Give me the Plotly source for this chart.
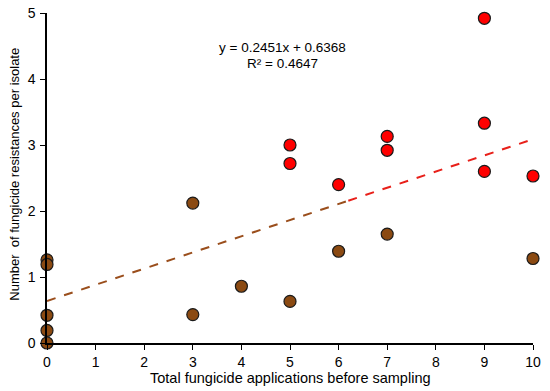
import plotly.graph_objects as go

# Data
red_x = [5, 5, 6, 7, 7, 9, 9, 9, 10]
red_y = [3.00, 2.72, 2.40, 3.13, 2.92, 4.92, 3.33, 2.60, 2.53]
brown_x = [0, 0, 0, 0, 0, 3, 3, 4, 5, 6, 7, 10]
brown_y = [1.26, 1.19, 0.42, 0.19, 0.0, 2.12, 0.43, 0.86, 0.63, 1.39, 1.65, 1.28]

slope = 0.2451
intercept = 0.6368
r2 = 0.4647
trend_split = 6.2
trend_x_brown = [0, trend_split]
trend_x_red = [trend_split, 10]

x_ticks = list(range(0, 11))
y_ticks = list(range(0, 6))

x_title = "Total fungicide applications before sampling"
y_title = "Number  of fungicide resistances per isolate"

FONT = "Liberation Sans, Arial, sans-serif"
BROWN = "#8B4A12"
RED = "#FF0000"

fig = go.Figure()

fig.add_trace(go.Scatter(
    x=trend_x_brown, y=[slope * v + intercept for v in trend_x_brown],
    mode="lines", line=dict(color="#9A4E1C", width=2, dash="dash"),
    hoverinfo="skip", showlegend=False))
fig.add_trace(go.Scatter(
    x=trend_x_red, y=[slope * v + intercept for v in trend_x_red],
    mode="lines", line=dict(color="#E8201A", width=2, dash="dash"),
    hoverinfo="skip", showlegend=False))

fig.add_trace(go.Scatter(
    x=brown_x, y=brown_y, mode="markers", cliponaxis=False,
    marker=dict(size=12, color=BROWN, line=dict(color="#1a1a1a", width=1.2)),
    showlegend=False))
fig.add_trace(go.Scatter(
    x=red_x, y=red_y, mode="markers", cliponaxis=False,
    marker=dict(size=12, color=RED, line=dict(color="#1a1a1a", width=1.2)),
    showlegend=False))

# Trendline equation (two lines, tight spacing like the reference)
fig.add_annotation(
    x=4.84, y=4.47, xref="x", yref="y",
    text=f"y = {slope}x + {intercept}",
    showarrow=False, align="center",
    font=dict(family=FONT, size=13.5, color="#000000"))
fig.add_annotation(
    x=4.84, y=4.24, xref="x", yref="y",
    text=f"R² = {r2}",
    showarrow=False, align="center",
    font=dict(family=FONT, size=13.5, color="#000000"))

# Axis titles as annotations for exact placement
fig.add_annotation(
    x=0.5, y=0, xref="paper", yref="paper", yanchor="middle", xanchor="center",
    yshift=-35, text=x_title, showarrow=False,
    font=dict(family=FONT, size=14.5, color="#000000"))
fig.add_annotation(
    x=0, y=0.51, xref="paper", yref="paper", xanchor="center", yanchor="middle",
    xshift=-32, text=y_title, textangle=-90, showarrow=False,
    font=dict(family=FONT, size=13, color="#000000"))

axis_common = dict(
    showgrid=False, zeroline=False, showline=True, linecolor="#000000",
    linewidth=1.5, ticks="outside", ticklen=5, tickcolor="#000000",
    automargin=False,
    tickfont=dict(family=FONT, size=14, color="#000000"))

fig.update_xaxes(range=[0, 10], tickvals=x_ticks,
                 ticktext=[str(v) for v in x_ticks], **axis_common)
fig.update_yaxes(range=[0, 5], tickvals=y_ticks, ticklabelstandoff=2,
                 ticktext=[str(v) for v in y_ticks], **axis_common)

fig.update_layout(
    width=550, height=391,
    margin=dict(l=47, r=17, t=13, b=48),
    plot_bgcolor="#FFFFFF", paper_bgcolor="#FFFFFF",
    font=dict(family=FONT))

fig.write_html("out.html",
               config={"displayModeBar": False},
               post_script="document.body.style.margin='0';")
